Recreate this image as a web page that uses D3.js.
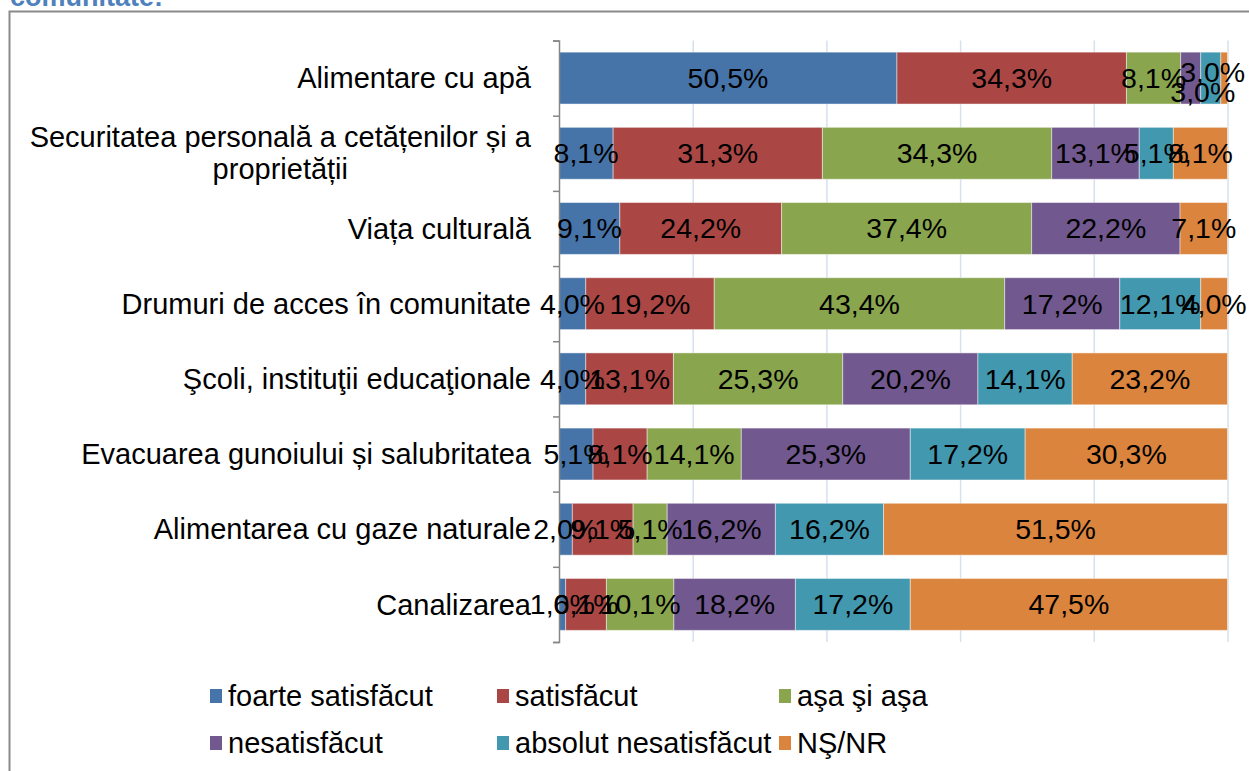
<!DOCTYPE html>
<html>
<head>
<meta charset="utf-8">
<script src="https://cdn.jsdelivr.net/npm/d3@7"></script>
<style>
  body { margin: 0; background: #fff; }
  text { font-family: "Liberation Sans", Arial, sans-serif; }
</style>
</head>
<body>
<script>
// categories, top to bottom
var categories = [
    "Alimentare cu apă",
    "Securitatea personală a cetățenilor și a proprietății",
    "Viața culturală",
    "Drumuri de acces în comunitate",
    "Şcoli, instituţii educaţionale",
    "Evacuarea gunoiului și salubritatea",
    "Alimentarea cu gaze naturale",
    "Canalizarea"
];

var seriesNames = ["foarte satisfăcut", "satisfăcut", "aşa şi aşa",
    "nesatisfăcut", "absolut nesatisfăcut", "NŞ/NR"];

// values in % per category
var foarteSatisfacut = [50.5, 8.1, 9.1, 4.0, 4.0, 5.1, 2.0, 1.0];
var satisfacut = [34.3, 31.3, 24.2, 19.2, 13.1, 8.1, 9.1, 6.1];
var asaSiAsa = [8.1, 34.3, 37.4, 43.4, 25.3, 14.1, 5.1, 10.1];
var nesatisfacut = [3.0, 13.1, 22.2, 17.2, 20.2, 25.3, 16.2, 18.2];
var absolutNesatisfacut = [3.0, 5.1, 0, 12.1, 14.1, 17.2, 16.2, 17.2];
var nsNr = [1.0, 8.1, 7.1, 4.0, 23.2, 30.3, 51.5, 47.5];

var seriesColors = ["#4674a9", "#aa4745", "#89a54e", "#71588f", "#4298af", "#db843d"];
var gridTicks = [0.2, 0.4, 0.6, 0.8, 1.0];

window.onload = function() {
    var w = 1249, h = 771;
    var left = 559, right = 1227.5, top = 40.5, bottom = 642;

    var seriesValues = [foarteSatisfacut, satisfacut, asaSiAsa, nesatisfacut, absolutNesatisfacut, nsNr];

    // one row object per category for d3.stack
    var rows = categories.map(function(c, i) {
        var r = { cat: c };
        seriesNames.forEach(function(s, j) { r[s] = seriesValues[j][i]; });
        return r;
    });

    var stacked = d3.stack()
        .keys(seriesNames)
        .offset(d3.stackOffsetExpand)(rows);

    var svg = d3.select("body").append("svg")
        .attr("width", w)
        .attr("height", h);

    // cut title at the top
    svg.append("text")
        .attr("x", 10)
        .attr("y", 6)
        .attr("fill", "#4f81bd")
        .style("font-weight", "bold")
        .style("font-size", "27px")
        .text("comunitate:");

    // chart frame (runs off the right and bottom)
    svg.append("rect")
        .attr("x", 9.5)
        .attr("y", 11.5)
        .attr("width", 1300)
        .attr("height", 800)
        .attr("fill", "#fff")
        .attr("stroke", "#8a8a8a")
        .attr("stroke-width", 2);

    var x = d3.scaleLinear().domain([0, 1]).range([left, right]);
    var y = d3.scaleBand().domain(categories).range([top, bottom])
        .paddingInner(0.31).paddingOuter(0.155);
    var color = d3.scaleOrdinal().domain(seriesNames).range(seriesColors);

    // vertical gridlines
    var grid = svg.append("g")
        .attr("transform", "translate(0," + bottom + ")")
        .call(d3.axisBottom(x).tickValues(gridTicks).tickSize(-(bottom - top)).tickFormat(""));
    grid.select(".domain").remove();
    grid.selectAll(".tick line").attr("stroke", "#d6e0ee").attr("stroke-width", 1.5);

    // bars
    var layer = svg.append("g").selectAll("g")
        .data(stacked)
        .join("g")
        .attr("fill", function(d) { return color(d.key); });

    layer.selectAll("rect")
        .data(function(d) { return d; })
        .join("rect")
        .attr("x", function(d) { return x(d[0]); })
        .attr("y", function(d) { return y(d.data.cat); })
        .attr("width", function(d) { return x(d[1]) - x(d[0]); })
        .attr("height", y.bandwidth())
        .attr("stroke", "rgba(255,255,255,0.45)")
        .attr("stroke-width", 1);

    // left axis with ticks at band boundaries
    var yIdx = d3.scaleLinear().domain([0, categories.length]).range([top, bottom]);
    var yAxis = svg.append("g")
        .attr("transform", "translate(" + left + ",0)")
        .call(d3.axisLeft(yIdx).tickValues(d3.range(categories.length + 1)).tickSize(6).tickFormat(""));
    yAxis.selectAll("line, path").attr("stroke", "#868686").attr("stroke-width", 1.5);

    // data labels
    var fmt = d3.format(".1f");
    var labels = [];
    categories.forEach(function(c, i) {
        var prevNarrow = 0;
        stacked.forEach(function(s, j) {
            var d = s[i];
            var v = seriesValues[j][i];
            if (!v) return;
            var narrow = (d[1] - d[0]) < 0.04;
            var lab = { x: (x(d[0]) + x(d[1])) / 2, y: y(c) + y.bandwidth() / 2, v: v };
            if (narrow && prevNarrow == 2) return; // no room left
            if (narrow && prevNarrow == 1) {
                lab.y += 14;
                labels[labels.length - 1].y -= 6;
                lab.x -= 8;
                labels[labels.length - 1].x += 22;
                prevNarrow = 2;
            } else {
                prevNarrow = narrow ? 1 : 0;
            }
            labels.push(lab);
        });
    });

    svg.append("g").selectAll("text")
        .data(labels)
        .join("text")
        .attr("x", function(d) { return d.x; })
        .attr("y", function(d) { return d.y; })
        .attr("dy", "0.35em")
        .attr("text-anchor", "middle")
        .style("font-size", "28.5px")
        .attr("fill", "#000")
        .text(function(d) { return fmt(d.v).replace(".", ",") + "%"; });

    // category labels, wrapped when too long
    var catG = svg.append("g");
    categories.forEach(function(c) {
        var t = catG.append("text")
            .style("font-size", "29px")
            .attr("fill", "#000");
        var words = c.split(" "), lines = [], line = [];
        words.forEach(function(wd) {
            line.push(wd);
            t.text(line.join(" "));
            if (t.node().getComputedTextLength() > 515 && line.length > 1) {
                line.pop();
                lines.push(line.join(" "));
                line = [wd];
            }
        });
        lines.push(line.join(" "));
        t.text(null);
        var cy = y(c) + y.bandwidth() / 2;
        var lh = 32;
        if (lines.length == 1) {
            t.attr("x", 531).attr("y", cy).attr("dy", "0.35em")
                .attr("text-anchor", "end").text(lines[0]);
        } else {
            var maxW = 0;
            lines.forEach(function(l) {
                t.text(l);
                maxW = Math.max(maxW, t.node().getComputedTextLength());
            });
            t.text(null).attr("text-anchor", "middle");
            lines.forEach(function(l, k) {
                t.append("tspan")
                    .attr("x", 531 - maxW / 2)
                    .attr("y", cy + (k - (lines.length - 1) / 2) * lh)
                    .attr("dy", "0.35em")
                    .text(l);
            });
        }
    });

    // legend, 3 columns x 2 rows
    var legCols = [210, 497, 779], legRows = [696, 743];
    var leg = svg.append("g").selectAll("g")
        .data(seriesNames)
        .join("g")
        .attr("transform", function(d, i) {
            return "translate(" + legCols[i % 3] + "," + legRows[Math.floor(i / 3)] + ")";
        });
    leg.append("rect")
        .attr("x", 0).attr("y", -7)
        .attr("width", 12).attr("height", 14)
        .attr("fill", function(d) { return color(d); });
    leg.append("text")
        .attr("x", 18)
        .attr("dy", "0.35em")
        .style("font-size", "29px")
        .text(function(d) { return d; });
};
</script>
</body>
</html>
